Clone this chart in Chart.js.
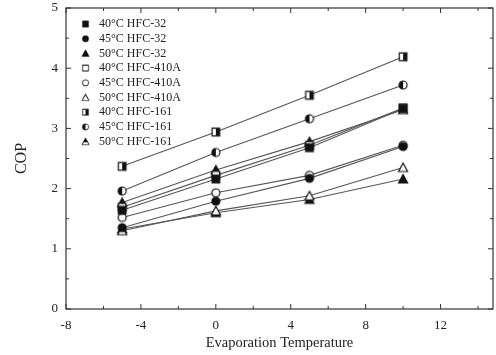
<!DOCTYPE html>
<html>
<head>
<meta charset="utf-8">
<script src="https://cdn.jsdelivr.net/npm/chart.js@4/dist/chart.umd.min.js"></script>
<style>
  html, body { margin: 0; padding: 0; background: #fff; }
</style>
</head>
<body>
<canvas id="cop" width="496" height="355"></canvas>
<script>
// evaporation temperatures (x) and COP values
const temps = [-5, 0, 5, 10];
const seriesLabels = [
  "40°C HFC-32", "45°C HFC-32", "50°C HFC-32",
  "40°C HFC-410A", "45°C HFC-410A", "50°C HFC-410A",
  "40°C HFC-161", "45°C HFC-161", "50°C HFC-161"
];
const hfc32_40 = [1.64, 2.16, 2.68, 3.33];
const hfc32_45 = [1.35, 1.79, 2.17, 2.70];
const hfc32_50 = [1.33, 1.60, 1.82, 2.16];
const r410a_40 = [1.69, 2.22, 2.72, 3.34];
const r410a_45 = [1.52, 1.93, 2.22, 2.72];
const r410a_50 = [1.30, 1.63, 1.88, 2.35];
const hfc161_40 = [2.37, 2.94, 3.55, 4.19];
const hfc161_45 = [1.96, 2.60, 3.16, 3.72];
const hfc161_50 = [1.77, 2.31, 2.78, 3.31];
const seriesMarks = ["sqFill", "ciFill", "trFill", "sqOpen", "ciOpen", "trOpen", "sqHalf", "ciHalf", "trHalf"];

const xTicks = [-8, -4, 0, 4, 8, 12];
const xMinor = [-6, -2, 2, 6, 10, 14];
const yTicks = [0, 1, 2, 3, 4, 5];
const yMinor = [0.5, 1.5, 2.5, 3.5, 4.5];

const FONT = "'Liberation Serif', 'Times New Roman', serif";
const INK = "#222";

// little canvases used as point styles
function marker(kind) {
  const c = document.createElement("canvas");
  c.width = 12; c.height = 12;
  const g = c.getContext("2d");
  g.lineWidth = 1.2;
  g.strokeStyle = "#111";
  g.fillStyle = "#fff";
  const shape = kind.slice(0, 2), fill = kind.slice(2);
  function path() {
    g.beginPath();
    if (shape === "sq") g.rect(2.2, 2.2, 7.6, 7.6);
    else if (shape === "ci") g.arc(6, 6, 4, 0, Math.PI * 2);
    else { g.moveTo(6, 1.5); g.lineTo(10.5, 10); g.lineTo(1.5, 10); g.closePath(); }
  }
  path();
  if (fill === "Fill") { g.fillStyle = "#111"; g.fill(); }
  else {
    g.fill();
    if (fill === "Half") {
      g.save();
      path(); g.clip();
      g.fillStyle = "#111";
      if (shape === "tr") g.fillRect(0, 0, 12, 7);
      else if (shape === "ci") g.fillRect(0, 0, 6, 12);
      else g.fillRect(6, 0, 6, 12);
      g.restore();
    }
  }
  path(); g.stroke();
  return c;
}

const allValues = [hfc32_40, hfc32_45, hfc32_50, r410a_40, r410a_45, r410a_50, hfc161_40, hfc161_45, hfc161_50];

const datasets = allValues.map((vals, i) => ({
  label: seriesLabels[i],
  data: temps.map((t, j) => ({ x: t, y: vals[j] })),
  borderColor: "#555",
  borderWidth: 1.1,
  pointStyle: marker(seriesMarks[i]),
  pointRadius: 5,
  order: seriesMarks[i] === "trFill" ? 1 : 0
}));

// box with inward ticks on all four sides + legend inside plot
const framePlugin = {
  id: "frame",
  beforeDatasetsDraw(chart) {
    const { ctx, chartArea: a, scales: { x, y } } = chart;
    ctx.save();
    ctx.strokeStyle = "#333";
    ctx.lineWidth = 1.2;
    ctx.strokeRect(a.left, a.top, a.right - a.left, a.bottom - a.top);
    ctx.lineWidth = 1;
    ctx.beginPath();
    const xt = (v, len) => {
      const px = x.getPixelForValue(v);
      if (px < a.left || px > a.right) return;
      ctx.moveTo(px, a.bottom); ctx.lineTo(px, a.bottom - len);
      ctx.moveTo(px, a.top); ctx.lineTo(px, a.top + len);
    };
    const yt = (v, len) => {
      const py = y.getPixelForValue(v);
      ctx.moveTo(a.left, py); ctx.lineTo(a.left + len, py);
      ctx.moveTo(a.right, py); ctx.lineTo(a.right - len, py);
    };
    xTicks.forEach(v => xt(v, 5));
    xMinor.forEach(v => xt(v, 3));
    yTicks.forEach(v => yt(v, 5));
    yMinor.forEach(v => yt(v, 3));
    ctx.stroke();
    ctx.restore();
  },
  afterDraw(chart) {
    const { ctx, chartArea: a } = chart;
    ctx.save();
    ctx.font = "12px " + FONT;
    ctx.fillStyle = INK;
    ctx.textBaseline = "middle";
    chart.data.datasets.forEach((ds, i) => {
      const cy = a.top + 16 + i * 14.7;
      ctx.drawImage(ds.pointStyle, a.left + 15, cy - 4.5, 9, 9);
      ctx.fillText(ds.label, a.left + 33, cy);
    });
    ctx.restore();
  }
};

new Chart(document.getElementById("cop"), {
  type: "line",
  data: { datasets },
  options: {
    responsive: false,
    animation: false,
    layout: { autoPadding: false, padding: { top: 8, right: 3, left: 0, bottom: 0 } },
    plugins: { legend: { display: false }, tooltip: { enabled: false } },
    scales: {
      x: {
        type: "linear",
        min: -8,
        max: 14.8,
        afterBuildTicks: s => { s.ticks = xTicks.map(v => ({ value: v })); },
        afterFit: s => { s.height = 46; },
        grid: { display: false, drawTicks: false },
        border: { display: false },
        ticks: { padding: 9, color: INK, font: { family: FONT, size: 13 } },
        title: { display: true, text: "Evaporation Temperature", color: INK, padding: { top: 0, bottom: 3 }, font: { family: FONT, size: 14.5 } }
      },
      y: {
        min: 0,
        max: 5,
        afterBuildTicks: s => { s.ticks = yTicks.map(v => ({ value: v })); },
        afterFit: s => { s.width = 66; s.paddingTop = 0; s.paddingBottom = 0; },
        grid: { display: false, drawTicks: false },
        border: { display: false },
        ticks: { padding: 8, color: INK, font: { family: FONT, size: 13 } },
        title: { display: true, text: "COP", color: INK, padding: { top: 12, bottom: 0 }, font: { family: FONT, size: 16 } }
      }
    }
  },
  plugins: [framePlugin]
});
</script>
</body>
</html>
